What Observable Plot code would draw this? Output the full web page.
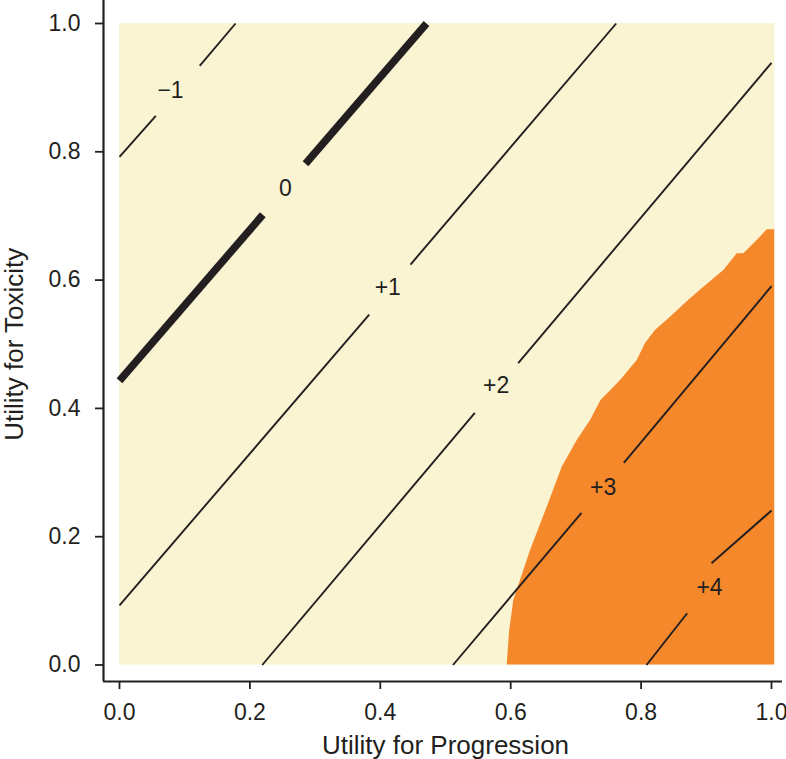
<!DOCTYPE html>
<html><head><meta charset="utf-8">
<script src="https://cdn.jsdelivr.net/npm/d3@7"></script>
<script src="https://cdn.jsdelivr.net/npm/@observablehq/plot@0.6"></script>
<style>body{margin:0;background:#fff;} #chart svg{display:block;}</style>
</head><body><div id="chart"></div>
<script>
// Axis ticks
const xTicks = [0, 0.2, 0.4, 0.6, 0.8, 1.0];
const yTicks = [0, 0.2, 0.4, 0.6, 0.8, 1.0];
const xTitle = "Utility for Progression";
const yTitle = "Utility for Toxicity";

// Extent of the evaluated grid (pale background)
const gridX = [0, 1.005];
const gridY = [0, 1.0];

// Boundary of the orange region (left edge), bottom to top
const boundaryY = [0, 0.0507, 0.1005, 0.1785, 0.246, 0.3083, 0.35, 0.3812, 0.4124, 0.4435, 0.4747, 0.5012, 0.5214, 0.5422, 0.5682, 0.589, 0.615, 0.641, 0.641, 0.6617, 0.6784];
const boundaryX = [0.5946, 0.5982, 0.6047, 0.6304, 0.656, 0.679, 0.702, 0.7224, 0.7385, 0.7684, 0.794, 0.8067, 0.822, 0.845, 0.8727, 0.8962, 0.9268, 0.9474, 0.9575, 0.978, 0.9934];

// Contour line pieces (broken around labels)
const segLevel = [-1, -1, 0, 0, 1, 1, 2, 2, 3, 3, 4, 4];
const segX1 = [0, 0.123, 0, 0.2853, 0, 0.4463, 0.2189, 0.6115, 0.5115, 0.7735, 0.8083, 0.9080];
const segY1 = [0.792, 0.934, 0.443, 0.7813, 0.093, 0.6243, 0, 0.4705, 0, 0.3152, 0, 0.1587];
const segX2 = [0.0557, 0.178, 0.2198, 0.4709, 0.383, 0.7618, 0.545, 1.0, 0.7086, 1.0, 0.8707, 1.0];
const segY2 = [0.856, 1.0, 0.7018, 1.0, 0.546, 1.0, 0.393, 0.9387, 0.2373, 0.5905, 0.0807, 0.2408];

// Contour labels
const labelText = ["\u22121", "0", "+1", "+2", "+3", "+4"];
const labelX = [0.0782, 0.2546, 0.4115, 0.5778, 0.7419, 0.9049];
const labelY = [0.896, 0.7433, 0.589, 0.4357, 0.2762, 0.1203];

const ink = "#231f20";
const xDomain = [-0.02454, 1.01687];
const yDomain = [-0.02572, 1.03585];

const bg = [{x1: gridX[0], x2: gridX[1], y1: gridY[0], y2: gridY[1]}];
const boundary = boundaryY.map((y, i) => ({y, x: boundaryX[i]}));
const segs = segLevel.map((l, i) => ({level: l, x1: segX1[i], y1: segY1[i], x2: segX2[i], y2: segY2[i]}));
const labels = labelText.map((t, i) => ({t, x: labelX[i], y: labelY[i]}));

const chart = Plot.plot({
  width: 786, height: 759,
  marginLeft: 103, marginRight: 4, marginTop: 0, marginBottom: 78,
  x: {domain: xDomain, label: null},
  y: {domain: yDomain, label: null},
  style: {fontFamily: "'Liberation Sans', Arial, sans-serif", fontSize: "23px", color: ink, background: "#fff", overflow: "visible"},
  marks: [
    Plot.rect(bg, {x1: "x1", x2: "x2", y1: "y1", y2: "y2", fill: "#faf4d3"}),
    Plot.areaX(boundary, {y: "y", x1: "x", x2: () => gridX[1], fill: "#f5882b"}),
    Plot.link(segs.filter(d => d.level !== 0), {x1: "x1", y1: "y1", x2: "x2", y2: "y2", stroke: ink, strokeWidth: 1.9, strokeLinecap: "butt"}),
    Plot.link(segs.filter(d => d.level === 0), {x1: "x1", y1: "y1", x2: "x2", y2: "y2", stroke: ink, strokeWidth: 7.5, strokeLinecap: "butt"}),
    Plot.text(labels, {x: "x", y: "y", text: "t", fill: ink, fontSize: 23, textAnchor: "middle", lineAnchor: "middle"}),
    Plot.ruleX([xDomain[0]], {stroke: ink, strokeWidth: 2.2}),
    Plot.ruleY([yDomain[0]], {stroke: ink, strokeWidth: 2.2}),
    Plot.axisX(xTicks, {tickFormat: d3.format(".1f"), tickSize: 8, tickPadding: 14, fontSize: 23, stroke: ink, strokeWidth: 1.8, fill: ink, label: null}),
    Plot.axisY(yTicks, {tickFormat: d3.format(".1f"), tickSize: 8, tickPadding: 15, fontSize: 23, stroke: ink, strokeWidth: 1.8, fill: ink, label: null}),
    Plot.text([xTitle], {x: () => 0.5, frameAnchor: "bottom", dy: 64, text: d => d, fontSize: 26, fill: ink, textAnchor: "middle", lineAnchor: "middle"}),
    Plot.text([yTitle], {y: () => 0.5, frameAnchor: "left", dx: -89, text: d => d, rotate: -90, fontSize: 26, fill: ink, textAnchor: "middle", lineAnchor: "middle"})
  ]
});
document.getElementById("chart").append(chart);
</script>
</body></html>
